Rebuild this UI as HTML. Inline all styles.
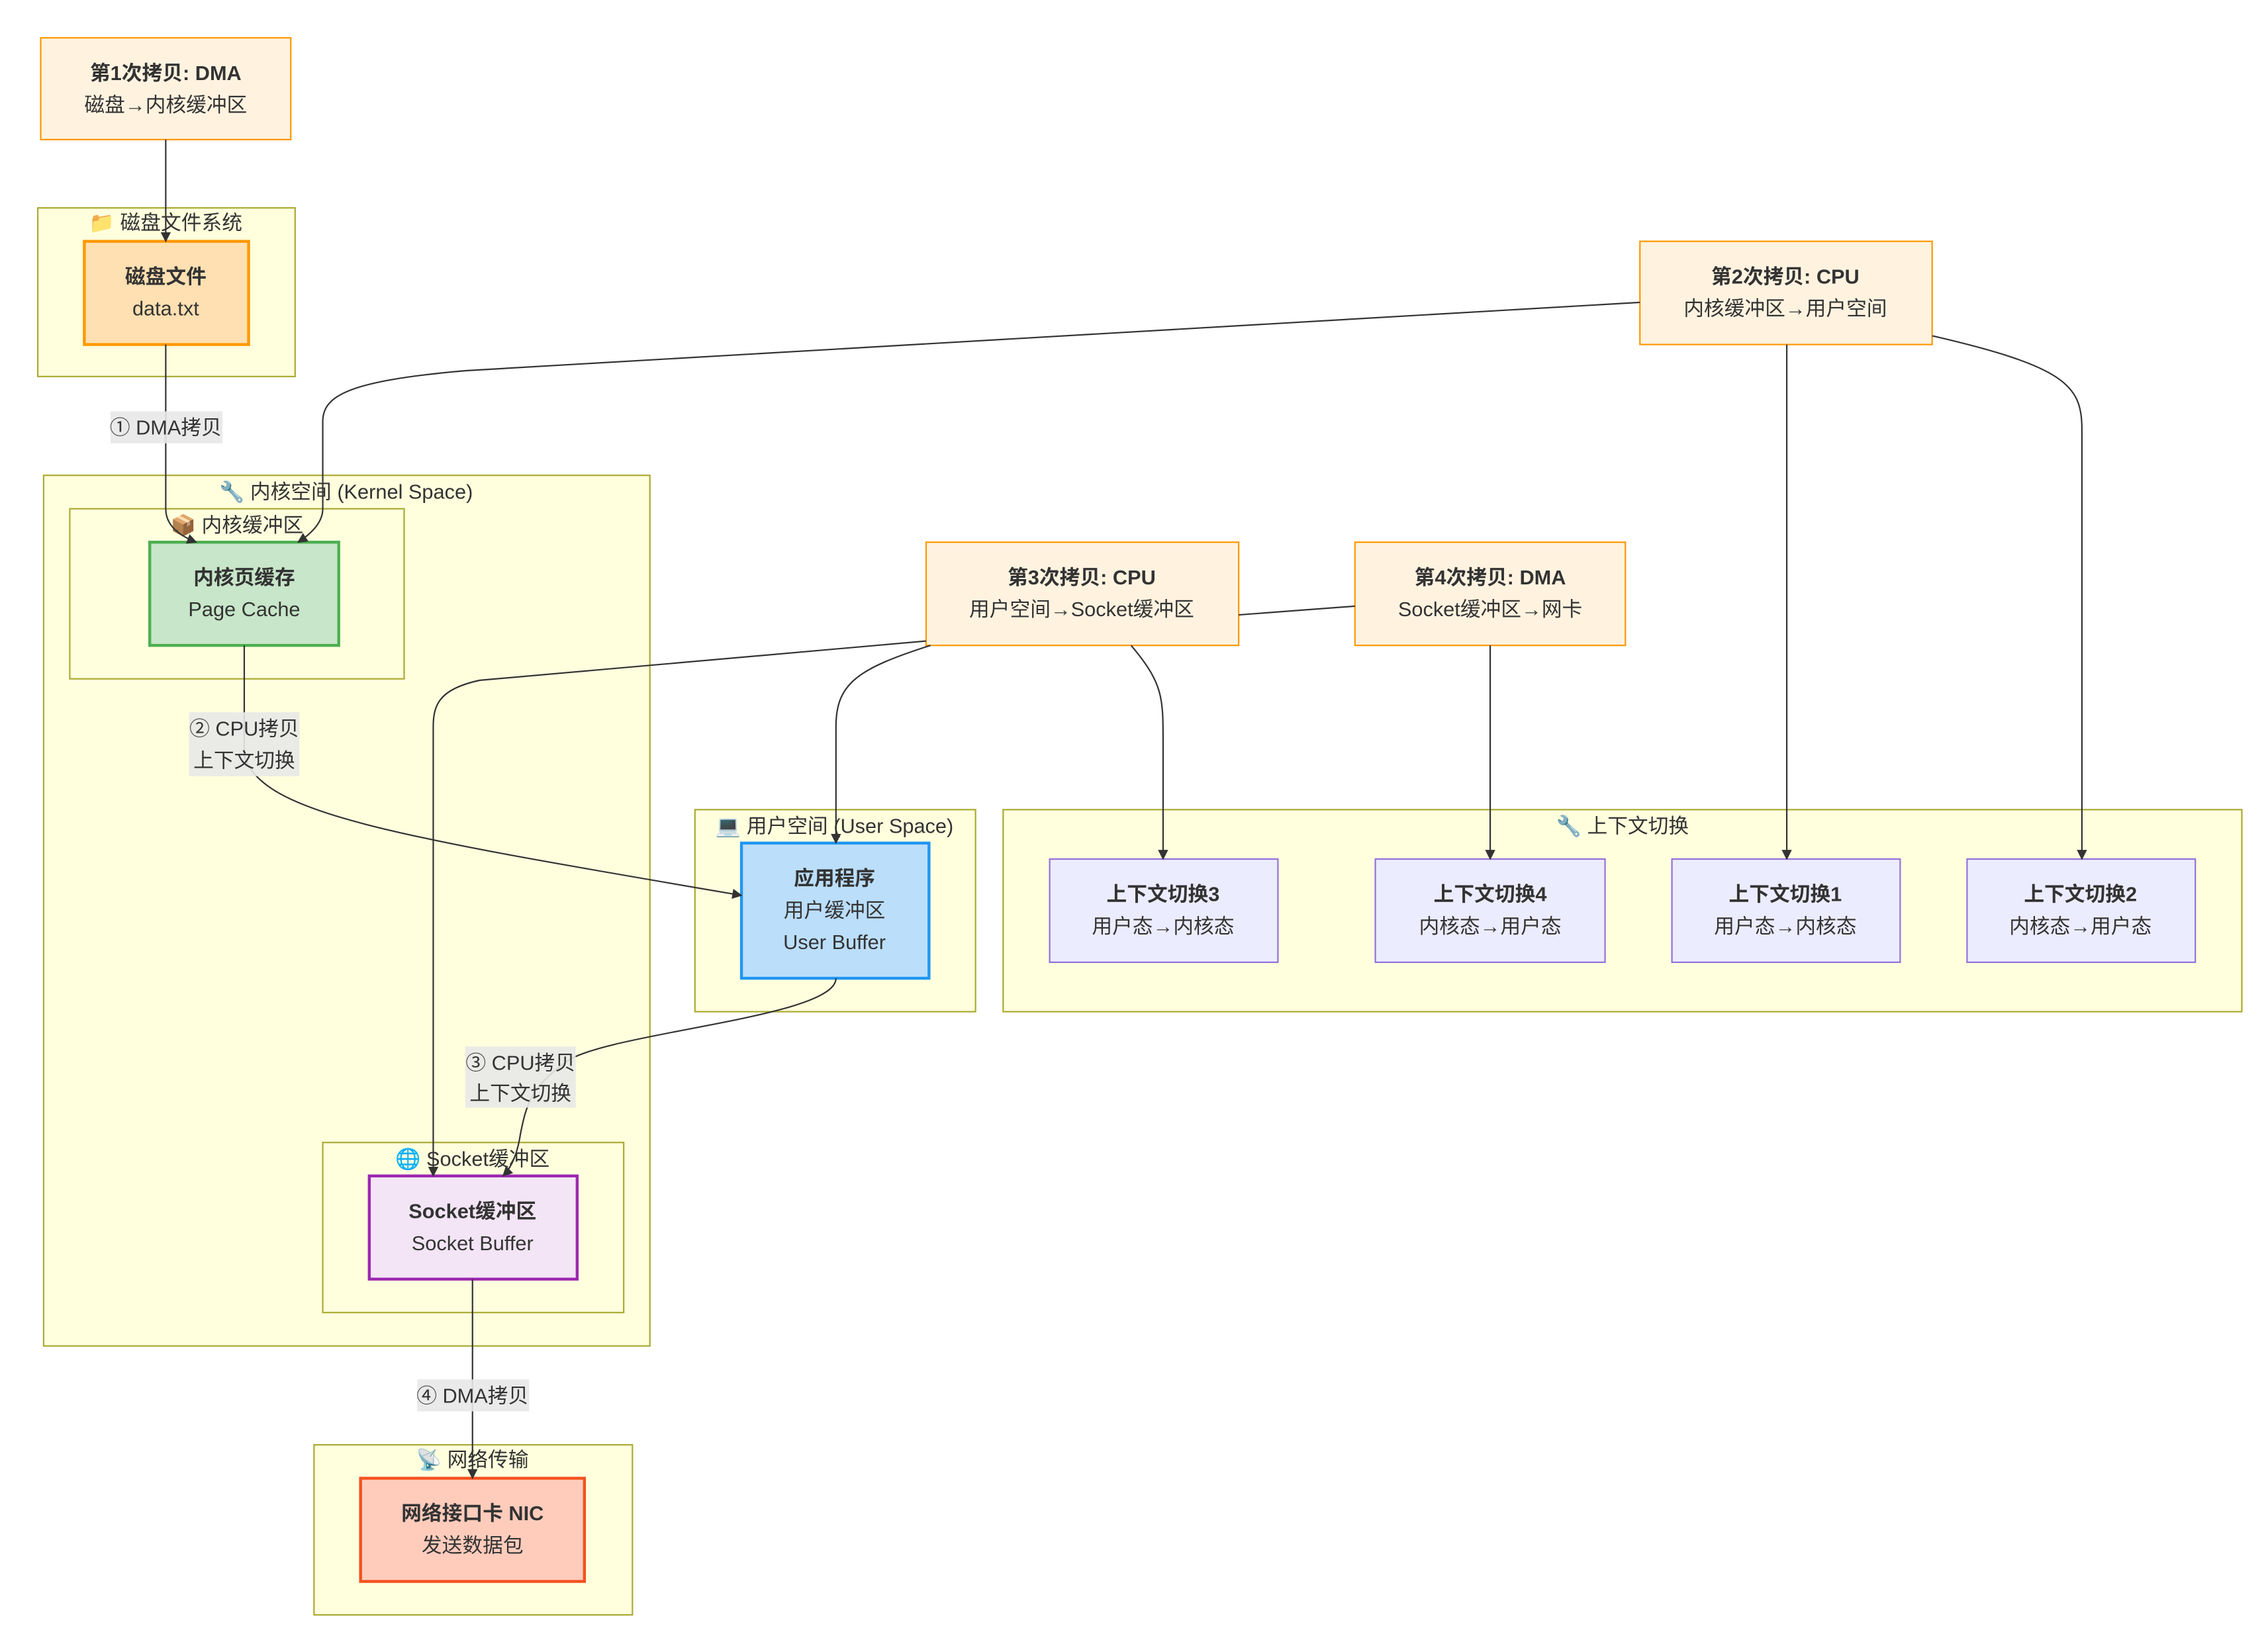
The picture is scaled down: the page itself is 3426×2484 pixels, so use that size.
<!DOCTYPE html>
<html><head><meta charset="utf-8">
<style>
html,body{margin:0;padding:0;background:#fff;}
svg{display:block;}
text{font-family:"Liberation Sans","Noto Sans CJK SC",sans-serif;fill:#333;text-anchor:middle;font-size:14px;}
.b{font-weight:bold;}
.cl{fill:#ffffde;stroke:#aaaa33;stroke-width:1;}
.e{fill:none;stroke:#333;stroke-width:1;}
.lb{fill:#e8e8e8;opacity:0.9;}
</style></head>
<body>
<svg width="3426" height="2484" viewBox="0 0 1560 1131" xmlns="http://www.w3.org/2000/svg">
<defs>
<marker id="a" viewBox="0 0 10 10" refX="9" refY="5" markerWidth="7" markerHeight="7" orient="auto"><path d="M0,0L10,5L0,10z" fill="#333"/></marker>
</defs>
<rect width="1560" height="1131" fill="#fff"/>

<!-- clusters -->
<rect class="cl" x="26" y="143" width="177" height="116"/>
<text x="114" y="158">📁 磁盘文件系统</text>
<rect class="cl" x="30" y="327" width="417" height="599"/>
<text x="238" y="343">🔧 内核空间 (Kernel Space)</text>
<rect class="cl" x="48" y="350" width="230" height="117"/>
<text x="163" y="366">📦 内核缓冲区</text>
<rect class="cl" x="478" y="557" width="193" height="139"/>
<text x="574" y="573">💻 用户空间 (User Space)</text>
<rect class="cl" x="690" y="557" width="852" height="139"/>
<text x="1116" y="573">🔧 上下文切换</text>
<rect class="cl" x="222" y="786" width="207" height="117"/>
<text x="325" y="802">🌐 Socket缓冲区</text>
<rect class="cl" x="216" y="994" width="219" height="117"/>
<text x="325" y="1009">📡 网络传输</text>

<!-- copy boxes -->
<rect x="28" y="26" width="172" height="70" fill="#fff3e0" stroke="#ff9800"/>
<text class="b" x="114" y="55">第1次拷贝: DMA</text><text x="114" y="77">磁盘→内核缓冲区</text>
<rect x="1128" y="166" width="201" height="71" fill="#fff3e0" stroke="#ff9800"/>
<text class="b" x="1228" y="195">第2次拷贝: CPU</text><text x="1228" y="217">内核缓冲区→用户空间</text>
<rect x="637" y="373" width="215" height="71" fill="#fff3e0" stroke="#ff9800"/>
<text class="b" x="744" y="402">第3次拷贝: CPU</text><text x="744" y="424">用户空间→Socket缓冲区</text>
<rect x="932" y="373" width="186" height="71" fill="#fff3e0" stroke="#ff9800"/>
<text class="b" x="1025" y="402">第4次拷贝: DMA</text><text x="1025" y="424">Socket缓冲区→网卡</text>

<!-- nodes -->
<rect x="58" y="166" width="113" height="71" fill="#ffe0b2" stroke="#ff9800" stroke-width="2"/>
<text class="b" x="114" y="195">磁盘文件</text><text x="114" y="217">data.txt</text>
<rect x="103" y="373" width="130" height="71" fill="#c8e6c9" stroke="#4caf50" stroke-width="2"/>
<text class="b" x="168" y="402">内核页缓存</text><text x="168" y="424">Page Cache</text>
<rect x="510" y="580" width="129" height="93" fill="#bbdefb" stroke="#2196f3" stroke-width="2"/>
<text class="b" x="574" y="609">应用程序</text><text x="574" y="631">用户缓冲区</text><text x="574" y="653">User Buffer</text>
<rect x="254" y="809" width="143" height="71" fill="#f3e5f5" stroke="#9c27b0" stroke-width="2"/>
<text class="b" x="325" y="838">Socket缓冲区</text><text x="325" y="860">Socket Buffer</text>
<rect x="248" y="1017" width="154" height="71" fill="#ffccbc" stroke="#f4511e" stroke-width="2"/>
<text class="b" x="325" y="1046">网络接口卡 NIC</text><text x="325" y="1068">发送数据包</text>

<rect x="722" y="591" width="157" height="71" fill="#ececff" stroke="#9370db"/>
<text class="b" x="800" y="620">上下文切换3</text><text x="800" y="642">用户态→内核态</text>
<rect x="946" y="591" width="158" height="71" fill="#ececff" stroke="#9370db"/>
<text class="b" x="1025" y="620">上下文切换4</text><text x="1025" y="642">内核态→用户态</text>
<rect x="1150" y="591" width="157" height="71" fill="#ececff" stroke="#9370db"/>
<text class="b" x="1228" y="620">上下文切换1</text><text x="1228" y="642">用户态→内核态</text>
<rect x="1353" y="591" width="157" height="71" fill="#ececff" stroke="#9370db"/>
<text class="b" x="1431" y="620">上下文切换2</text><text x="1431" y="642">内核态→用户态</text>

<!-- edges -->
<path class="e" marker-end="url(#a)" d="M114,96 L114,166"/>
<path class="e" marker-end="url(#a)" d="M114,237 L114,350 Q114,365 135,373"/>
<path class="e" marker-end="url(#a)" d="M1128,208 L320,255 C240,262 222,272 222,290 L222,350 Q222,362 205,373"/>
<path class="e" marker-end="url(#a)" d="M1229,237 L1229,591"/>
<path class="e" marker-end="url(#a)" d="M1329,231 C1420,252 1432,265 1432,295 L1432,591"/>
<path class="e" marker-end="url(#a)" d="M168,444 L168,520 C180,560 270,575 510,616"/>
<path class="e" marker-end="url(#a)" d="M637,441 L330,468 C302,474 298,485 298,500 L298,809"/>
<path class="e" marker-end="url(#a)" d="M640,444 C590,460 575,470 575,500 L575,580"/>
<path class="e" marker-end="url(#a)" d="M778,444 C800,470 800,480 800,510 L800,591"/>
<path class="e" d="M852,423 L932,417"/>
<path class="e" marker-end="url(#a)" d="M1025,444 L1025,591"/>
<path class="e" marker-end="url(#a)" d="M575,673 C575,700 420,710 390,730 C365,748 362,760 358,780 Q355,800 346,809"/>
<path class="e" marker-end="url(#a)" d="M325,880 L325,1017"/>

<!-- edge labels -->
<rect class="lb" x="76" y="283" width="77" height="22"/>
<text x="114" y="299">① DMA拷贝</text>
<rect class="lb" x="130" y="490" width="76" height="44"/>
<text x="168" y="506">② CPU拷贝</text><text x="168" y="528">上下文切换</text>
<rect class="lb" x="320" y="720" width="76" height="42"/>
<text x="358" y="736">③ CPU拷贝</text><text x="358" y="757">上下文切换</text>
<rect class="lb" x="287" y="949" width="77" height="22"/>
<text x="325" y="965">④ DMA拷贝</text>
</svg>
</body></html>
